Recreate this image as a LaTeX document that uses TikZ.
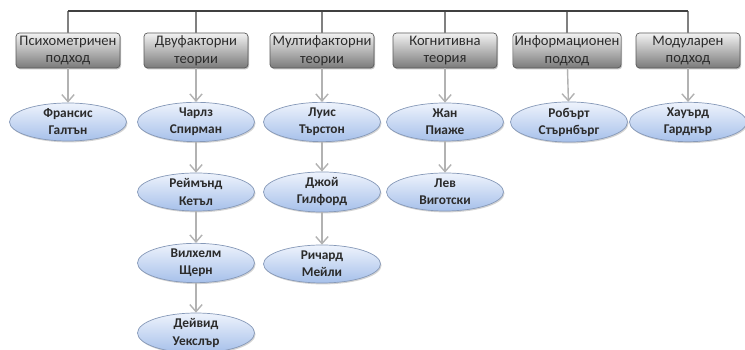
\documentclass[tikz,border=0pt]{standalone}
\usepackage{fontspec}
\setmainfont{Carlito}
\usetikzlibrary{shapes.geometric,arrows.meta,shadows}
\definecolor{boxtop}{HTML}{F2F2F2}
\definecolor{boxbot}{HTML}{7A7A7A}
\definecolor{ovtop}{HTML}{EEF3FC}
\definecolor{ovbot}{HTML}{A6C0EA}
\definecolor{ovline}{HTML}{8699B8}
\definecolor{txt}{HTML}{2B2B2B}
\begin{document}
\begin{tikzpicture}[x=0.02cm,y=-0.02cm,
  head/.style={draw=black!65,rounded corners=2pt,top color=boxtop,bottom color=boxbot,
    minimum width=2.08cm,minimum height=0.7cm,inner sep=1pt,align=center,text=txt,
    font=\fontsize{8.3}{10.2}\selectfont,
    drop shadow={opacity=0.45,shadow xshift=0.6pt,shadow yshift=-0.8pt}},
  person/.style={ellipse,draw=ovline,top color=ovtop,bottom color=ovbot,
    minimum width=2.34cm,minimum height=0.76cm,inner sep=0pt,align=center,text=txt,
    font=\fontsize{7.6}{9.7}\selectfont\bfseries,
    drop shadow={opacity=0.35,shadow xshift=0.6pt,shadow yshift=-0.8pt}},
  arr/.style={draw=black!30,line width=0.8pt,-{Straight Barb[length=4pt,width=7pt]}},
  link/.style={draw=black!50,line width=0.7pt}]

  \useasboundingbox (0,0) rectangle (745,350);

  \coordinate (bar) at (0,11);

  \node (psy) at (68,50.5) [head]{Психометричен\\подход};
  \node (two) at (196,50.5) [head]{Двуфакторни\\теории};
  \node (multi) at (322,50.5) [head]{Мултифакторни\\теории};
  \node (cog) at (445,50.5) [head]{Когнитивна\\теория};
  \node (info) at (567,50.5) [head]{Информационен\\подход};
  \node (mod) at (688,50.5) [head]{Модуларен\\подход};

  \foreach \n in {psy,two,multi,cog,info,mod}
    \draw[link] (\n.north) -- (\n.north |- bar);
  \draw[black!75,line width=0.8pt] (psy.north |- bar) -- (mod.north |- bar);

  \node (galt) at (68,122) [person]{Франсис\\Галтън};
  \node (spear) at (196,122) [person]{Чарлз\\Спирман};
  \node (catt) at (196,192) [person]{Реймънд\\Кетъл};
  \node (stern) at (196,263) [person]{Вилхелм\\Щерн};
  \node (wech) at (196,333) [person]{Дейвид\\Уекслър};
  \node (thur) at (322,122) [person]{Луис\\Търстон};
  \node (guil) at (322,192) [person]{Джой\\Гилфорд};
  \node (meili) at (322,264) [person]{Ричард\\Мейли};
  \node (piag) at (445,122) [person]{Жан\\Пиаже};
  \node (vyg) at (445,192) [person]{Лев\\Виготски};
  \node (sternb) at (569,122) [person]{Робърт\\Стърнбърг};
  \node (gard) at (688,122) [person]{Хауърд\\Гарднър};

  \draw[arr] (psy) -- (galt);
  \draw[arr] (two) -- (spear);
  \draw[arr] (spear) -- (catt);
  \draw[arr] (catt) -- (stern);
  \draw[arr] (stern) -- (wech);
  \draw[arr] (multi) -- (thur);
  \draw[arr] (thur) -- (guil);
  \draw[arr] (guil) -- (meili);
  \draw[arr] (cog) -- (piag);
  \draw[arr] (piag) -- (vyg);
  \draw[arr] (info) -- (sternb);
  \draw[arr] (mod) -- (gard);

\end{tikzpicture}
\end{document}
